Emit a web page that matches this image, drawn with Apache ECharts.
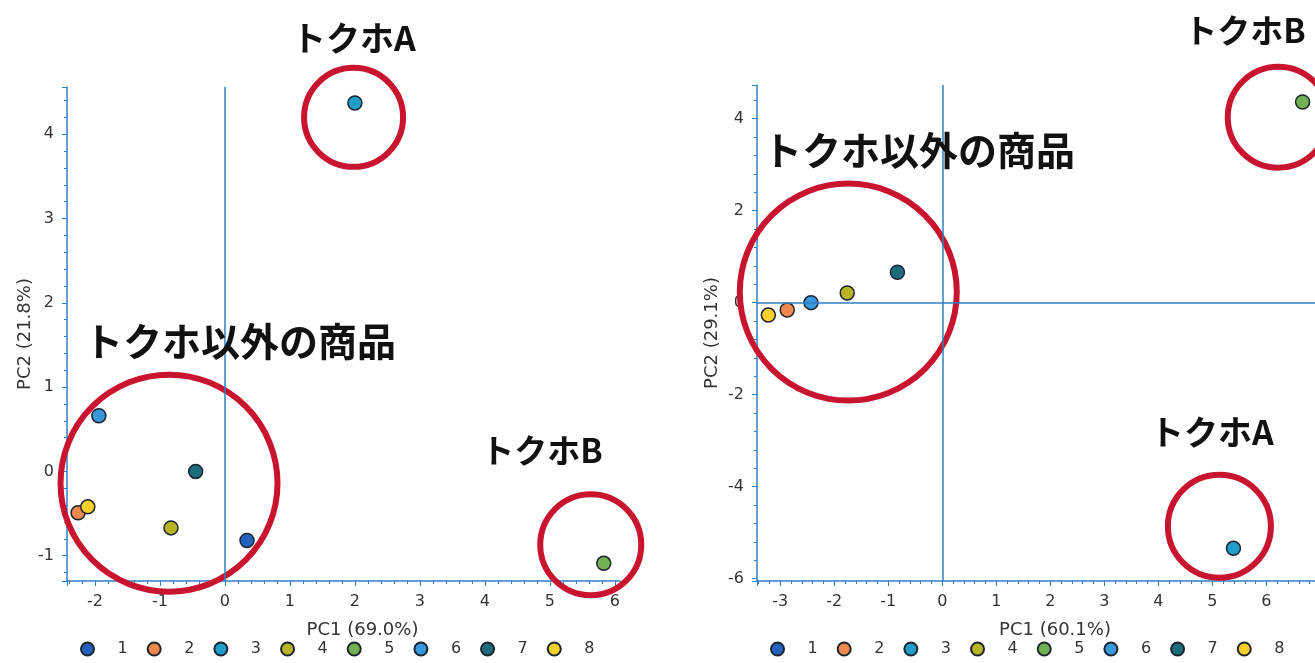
<!DOCTYPE html>
<html><head><meta charset="utf-8">
<script src="https://cdn.jsdelivr.net/npm/echarts@6/dist/echarts.min.js"></script>
<style>html,body{margin:0;padding:0;background:#fff}#c{width:1315px;height:663px}</style>
</head><body><div id="c"></div>
<script>
// ---- data ----
const seriesNames = ['1','2','3','4','5','6','7','8'];
const seriesColors = ['#2462c0','#f0884c','#1e9ec8','#b9b424','#72b152','#3a98dd','#1b6d7e','#f7d02a'];
// Left plot: PC1 (69.0%) vs PC2 (21.8%)
const leftX = [0.34, -2.26, 2.00, -0.83, 5.83, -1.94, -0.45, -2.11];
const leftY = [-0.82, -0.49, 4.37, -0.67, -1.09, 0.66, 0.00, -0.42];
// Right plot: PC1 (60.1%) vs PC2 (29.1%)  (series 1 not visible)
const rightX = [null, -2.87, 5.39, -1.76, 6.67, -2.43, -0.83, -3.22];
const rightY = [null, -0.16, -5.34, 0.21, 4.36, 0.00, 0.66, -0.27];
const leftAxisNames = ['PC1 (69.0%)', 'PC2 (21.8%)'];
const rightAxisNames = ['PC1 (60.1%)', 'PC2 (29.1%)'];
// annotation circles: [x, y, diameter]
const leftCircles = [[1.98, 4.20, 99], [-0.86, -0.14, 217], [5.63, -0.87, 101]];
const rightCircles = [[6.22, 4.03, 101], [-1.74, 0.23, 217], [5.13, -4.86, 103]];
// annotation labels
const labelA = 'トクホA', labelB = 'トクホB', labelOther = 'トクホ以外の商品';

// ---- chart ----
const axisBlue = '#2f7fc4';
const labelFont = 'DejaVu Sans';
function intLabel(v){ const r = Math.round(v); return Math.abs(v - r) < 1e-6 ? String(r) : ''; }
function xAx(idx, min, max, split, name){
  return {type:'value', gridIndex: idx, min, max, splitNumber: split, name, nameLocation:'middle', nameGap: 40,
    nameTextStyle:{fontFamily:labelFont, fontSize:18, color:'#333', padding:[0,0,0,38]},
    axisLine:{show:true, onZero:false, lineStyle:{color:axisBlue, width:1.5}},
    axisTick:{show:true, length:5, lineStyle:{color:axisBlue}},
    minorTick:{show:true, splitNumber:5, length:3, lineStyle:{color:axisBlue}},
    axisLabel:{formatter:intLabel, margin:13, fontFamily:labelFont, fontSize:16, color:'#333', showMinLabel:true, showMaxLabel:true},
    splitLine:{show:false}, minorSplitLine:{show:false}};
}
function yAx(idx, min, max, split, name, gap){
  return {type:'value', gridIndex: idx, min, max, splitNumber: split, name, nameLocation:'middle', nameGap: gap, nameRotate: 90,
    nameTextStyle:{fontFamily:labelFont, fontSize:18, color:'#333'},
    axisLine:{show:true, onZero:false, lineStyle:{color:axisBlue, width:1.5}},
    axisTick:{show:true, length:5, lineStyle:{color:axisBlue}},
    minorTick:{show:true, splitNumber:5, length:3, lineStyle:{color:axisBlue}},
    axisLabel:{formatter:intLabel, margin:13, fontFamily:labelFont, fontSize:16, color:'#333'},
    splitLine:{show:false}, minorSplitLine:{show:false}};
}
const series = [];
seriesNames.forEach((n,i)=>{
  const common = {type:'scatter', name:n, symbol:'circle', symbolSize:14, z:3,
    itemStyle:{color:seriesColors[i], borderColor:'#1c2430', borderWidth:1.5, opacity:1}, emphasis:{disabled:true}};
  series.push(Object.assign({}, common, {xAxisIndex:0, yAxisIndex:0, data: leftX[i]==null?[]:[[leftX[i], leftY[i]]]}));
  series.push(Object.assign({}, common, {xAxisIndex:1, yAxisIndex:1, data: rightX[i]==null?[]:[[rightX[i], rightY[i]]]}));
});
function circleSeries(idx, circles, hLineEnd, xmin){
  return {type:'scatter', name:'annot'+idx, xAxisIndex:idx, yAxisIndex:idx, clip:false, silent:true, z:4,
    symbol:'circle', symbolSize:(v)=>v[2],
    itemStyle:{color:'rgba(0,0,0,0)', borderColor:'#c8142f', borderWidth:6, opacity:1},
    emphasis:{disabled:true},
    data: circles,
    markLine:{silent:true, symbol:['none','none'], label:{show:false}, animation:false,
      lineStyle:{color:axisBlue, width:1.5, type:'solid', opacity:1}, emphasis:{disabled:true},
      data:[ {xAxis:0}, [{coord:[xmin,0]},{coord:[hLineEnd,0]}] ]}
  };
}
series.push(circleSeries(0, leftCircles, 6.25, -2.43));
series.push(circleSeries(1, rightCircles, 6.9, -3.43));

function legend(left){
  return {show:true, data:seriesNames, left, top:636, orient:'horizontal', icon:'circle', itemWidth:20, itemHeight:13,
    itemGap:19, selectedMode:false, textStyle:{fontFamily:labelFont, fontSize:16, color:'#333', padding:[0,0,0,15]}};
}
function txt(text, x, y, size){
  return {type:'text', x, y, z:10, style:{text, fontFamily:'Noto Sans CJK JP', fontWeight:'bold', fontSize:size, fill:'#111', textAlign:'center', textVerticalAlign:'middle'}};
}
const option = {
  animation:false,
  backgroundColor:'#fff',
  grid:[
    {left:67, top:87, width:553, height:494, containLabel:false, outerBoundsMode:'none'},
    {left:757, top:85, width:558, height:496, containLabel:false, outerBoundsMode:'none'}
  ],
  xAxis:[ xAx(0, -2.43, 6.08, 9, leftAxisNames[0]), xAx(1, -3.43, 6.9, 10, rightAxisNames[0]) ],
  yAxis:[ yAx(0, -1.3, 4.56, 6, leftAxisNames[1], 32), yAx(1, -6.05, 4.73, 5, rightAxisNames[1], 36) ],
  legend:[ legend(75), legend(765) ],
  series,
  graphic:[
    txt(labelA, 354, 38, 34),
    txt(labelOther, 240, 341, 39),
    txt(labelB, 542, 450, 33),
    txt(labelB, 1245, 30, 33),
    txt(labelOther, 919, 150, 39),
    txt(labelA, 1212, 432, 34)
  ]
};
const chart = echarts.init(document.getElementById('c'), null, {renderer:'canvas'});
chart.setOption(option);
</script></body></html>
